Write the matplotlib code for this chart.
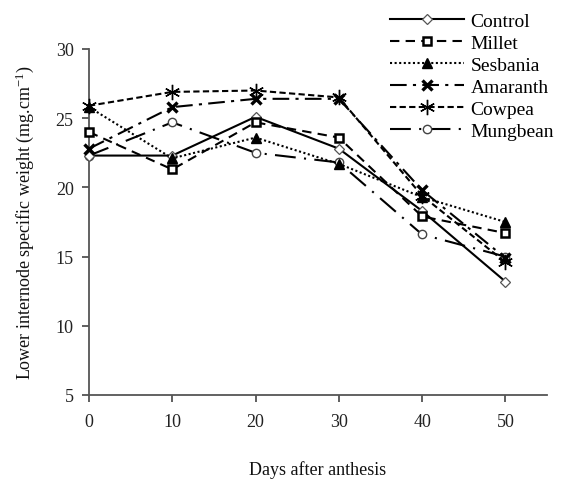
import matplotlib
matplotlib.use("Agg")
import matplotlib.pyplot as plt

plt.rcParams['font.family'] = ['Liberation Serif', 'DejaVu Serif']
plt.rcParams['mathtext.fontset'] = 'custom'
plt.rcParams['mathtext.rm'] = 'Liberation Serif'
plt.rcParams['mathtext.it'] = 'Liberation Serif:italic'

# days after anthesis
days = [0, 10, 20, 30, 40, 50]

# lower internode specific weight (mg.cm-1)
control = [22.3, 22.3, 25.1, 22.8, 18.3, 13.2]
millet = [24.0, 21.3, 24.7, 23.6, 17.9, 16.7]
sesbania = [25.8, 22.1, 23.6, 21.7, 19.3, 17.5]
amaranth = [22.8, 25.8, 26.4, 26.4, 19.8, 14.9]
cowpea = [25.9, 26.9, 27.0, 26.5, 19.4, 14.6]
mungbean = [22.3, 24.7, 22.5, 21.8, 16.6, 15.0]

series = [
    ("Control", control, dict(ls='-', marker='D', ms=5.5, mfc='white', mec='#555555', mew=0.9, zorder=3)),
    ("Millet", millet, dict(ls=(0, (4.5, 3)), marker='s', ms=6, mfc='white', mec='black', mew=1.8, zorder=3)),
    ("Sesbania", sesbania, dict(ls=(0, (1, 1.2)), marker='^', ms=6.5, mfc='black', mec='black', mew=1, zorder=3)),
    ("Amaranth", amaranth, dict(ls=(0, (8, 3, 1.5, 3)), marker='x', ms=6.5, mec='black', mew=2.4, zorder=3)),
    ("Cowpea", cowpea, dict(ls=(0, (3, 1.6)), marker=(6, 2, 0), ms=11, mec='black', mew=1.0, zorder=3)),
    ("Mungbean", mungbean, dict(ls=(0, (10, 4, 1, 4)), marker='o', ms=6, mfc='white', mec='#444444', mew=1.0, zorder=2)),
]

fig = plt.figure(figsize=(5.68, 4.81), dpi=100)
ax = fig.add_axes([89 / 568, 1 - 396 / 481, (547 - 89) / 568, (396 - 50) / 481])

for name, vals, style in series:
    ax.plot(days, vals, color='black', lw=1.5, label=name, clip_on=False, **style)

ax.set_xlim(0, 55)
ax.set_ylim(5, 30)
ax.set_xticks(days)
ax.set_yticks([5, 10, 15, 20, 25, 30])

for side in ['top', 'right']:
    ax.spines[side].set_visible(False)
for side in ['left', 'bottom']:
    ax.spines[side].set_color('#555555')
    ax.spines[side].set_linewidth(1.3)

ax.tick_params(axis='both', direction='out', length=5, width=1.2, color='#444444',
               labelsize=13, labelcolor='#222222')
ax.tick_params(axis='x', pad=8)
ax.tick_params(axis='y', pad=6)

ax.set_xlabel("Days after anthesis", fontsize=13, labelpad=22, color='#111111')
ax.set_ylabel(r"Lower internode specific weight (mg.cm$^{-1}$)", fontsize=13,
              labelpad=14, color='#111111')

ax.legend(loc='upper left', bbox_to_anchor=(390 / 568, 1 - 13 / 481),
          bbox_transform=fig.transFigure, frameon=False, fontsize=14,
          handlelength=3.8, handletextpad=0.35, labelspacing=0.23, borderpad=0,
          borderaxespad=0)

fig.savefig("out.png", dpi=100)
